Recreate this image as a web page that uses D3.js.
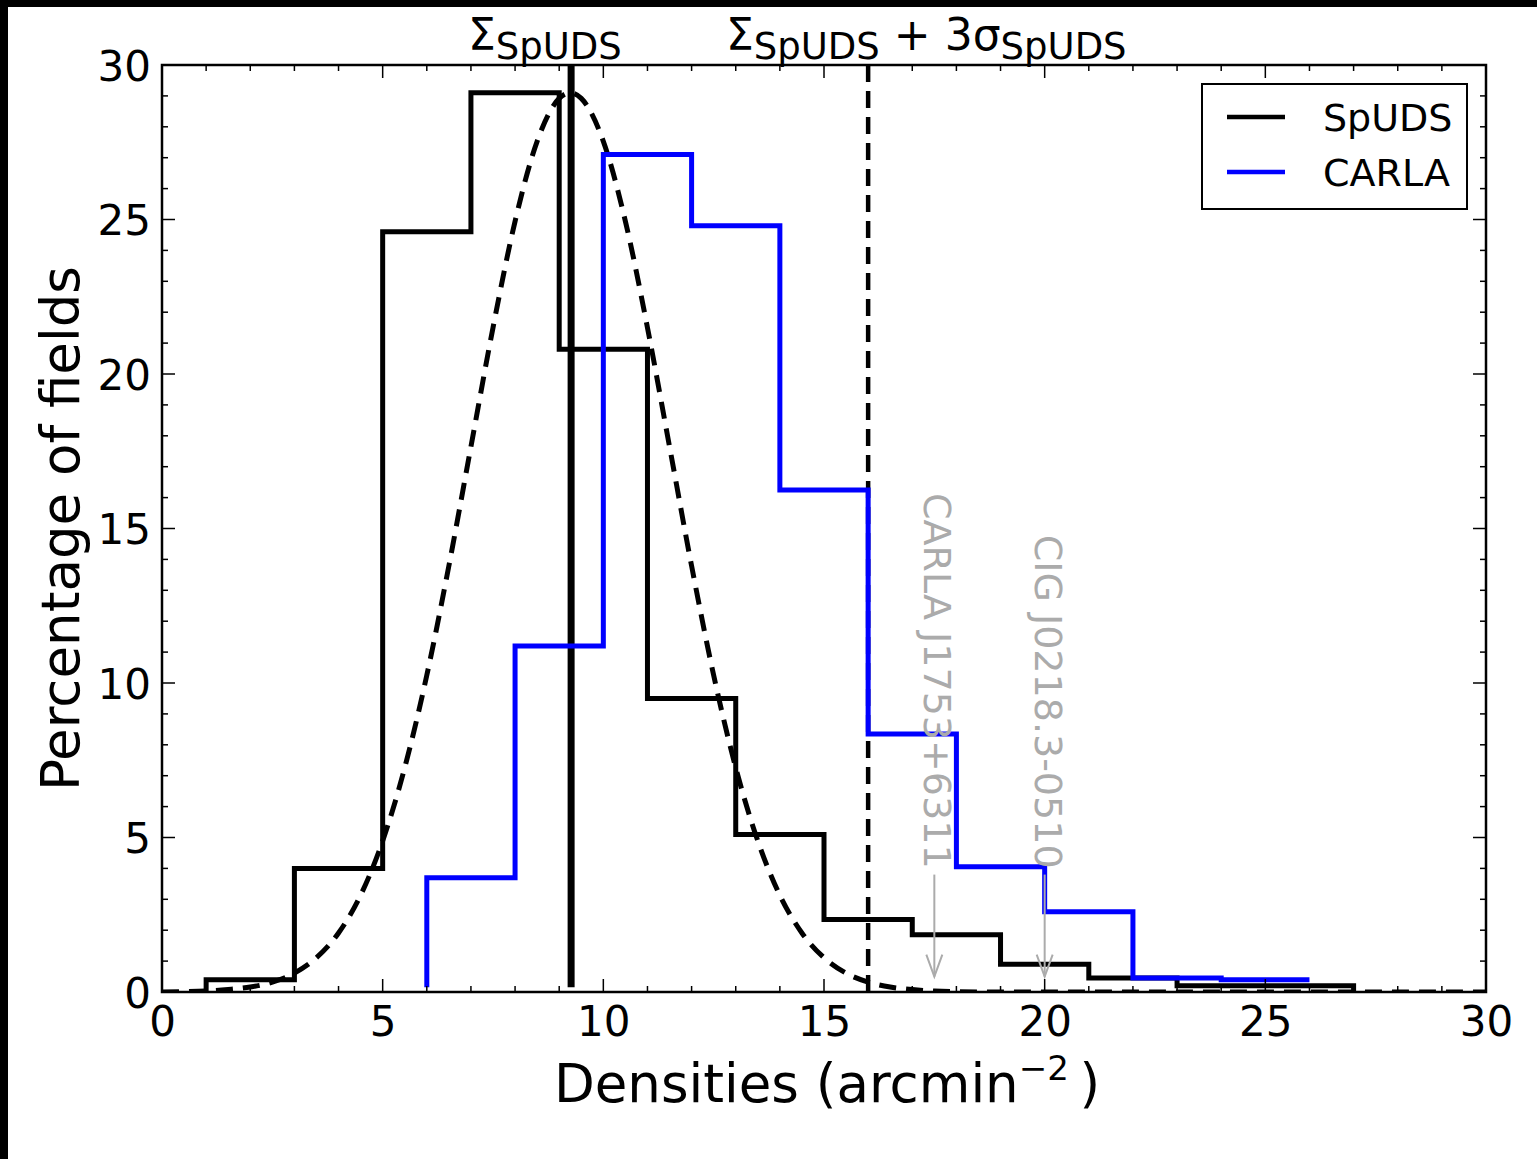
<!DOCTYPE html>
<html>
<head>
<meta charset="utf-8">
<script src="https://cdn.jsdelivr.net/npm/d3@7"></script>
<style>
  html, body { margin: 0; padding: 0; background: #fff; }
  svg { display: block; }
  text { font-family: "DejaVu Sans", sans-serif; }
</style>
</head>
<body>
<svg id="chart" width="1537" height="1159"></svg>
<script>
// ---------- data ----------
const spudsEdges = [1, 3, 5, 7, 9, 11, 13, 15, 17, 19, 21, 23, 25, 27];
const spudsPct   = [0.4, 4.0, 24.6, 29.1, 20.8, 9.5, 5.1, 2.35, 1.85, 0.9, 0.45, 0.2, 0.2];
const carlaEdges = [6, 8, 10, 12, 14, 16, 18, 20, 22, 24, 26];
const carlaPct   = [3.7, 11.2, 27.1, 24.8, 16.25, 8.35, 4.05, 2.6, 0.45, 0.4];
const carlaStart = 0.15;
const gaussX = [0, 1, 1.5, 2, 2.5, 3, 3.5, 4, 4.5, 5, 5.5, 6, 6.5, 7, 7.5, 8, 8.5, 9, 9.25, 9.5, 10, 10.5, 11, 11.5, 12, 12.5, 13, 13.5, 14, 14.5, 15, 15.5, 16, 16.5, 17, 17.5, 18, 19, 20, 30];
const gaussY = [0, 0.03, 0.08, 0.16, 0.32, 0.61, 1.11, 1.91, 3.13, 4.89, 7.26, 10.25, 13.79, 17.65, 21.5, 24.94, 27.53, 28.92, 29.1, 28.92, 27.53, 24.94, 21.5, 17.65, 13.79, 10.25, 7.26, 4.89, 3.13, 1.91, 1.11, 0.61, 0.32, 0.16, 0.08, 0.03, 0.01, 0, 0, 0];
const sigmaMean = 9.27;
const sigma3 = 16.0;
const annotNames = ["CARLA J1753+6311", "CIG J0218.3-0510"];
const annotX = [17.5, 20.0];
const annotTail = 3.8;
const annotHead = 0.5;
const xTicks = [0, 5, 10, 15, 20, 25, 30];
const yTicks = [0, 5, 10, 15, 20, 25, 30];
const legendNames = ["SpUDS", "CARLA"];
const legendColors = ["#000000", "#0000ff"];

// ---------- layout ----------
const X0 = 162, X1 = 1486, YB = 992, YT = 65;
const svg = d3.select("#chart");
svg.append("rect").attr("x", 0).attr("y", 0).attr("width", 1537).attr("height", 1159).attr("fill", "#fff");
svg.append("rect").attr("x", 0).attr("y", 0).attr("width", 1537).attr("height", 7).attr("fill", "#000");
svg.append("rect").attr("x", 0).attr("y", 0).attr("width", 8).attr("height", 1159).attr("fill", "#000");

const x = d3.scaleLinear().domain([0, 30]).range([X0, X1]);
const y = d3.scaleLinear().domain([0, 30]).range([YB, YT]);

const g = svg.append("g");
svg.append("defs").append("clipPath").attr("id", "clip")
  .append("rect").attr("x", X0).attr("y", YT - 2).attr("width", X1 - X0).attr("height", YB - YT + 2);
const plot = g.append("g").attr("clip-path", "url(#clip)");

// vertical lines
plot.append("line").attr("x1", x(sigmaMean)).attr("x2", x(sigmaMean))
  .attr("y1", y(30)).attr("y2", y(0.15)).attr("stroke", "#000").attr("stroke-width", 7);
plot.append("line").attr("x1", x(sigma3)).attr("x2", x(sigma3))
  .attr("y1", y(30)).attr("y2", y(0)).attr("stroke", "#000").attr("stroke-width", 4.5)
  .attr("stroke-dasharray", "17,9");

// gaussian
const line = d3.line().x(d => x(d[0])).y(d => y(d[1])).curve(d3.curveMonotoneX);
plot.append("path").datum(gaussX.map((v, i) => [v, gaussY[i]]))
  .attr("d", line).attr("fill", "none").attr("stroke", "#000")
  .attr("stroke-width", 5).attr("stroke-dasharray", "17,10");

// histograms
function stepPts(edges, vals, start, dropEnd) {
  const pts = [[edges[0], start]];
  vals.forEach((v, i) => { pts.push([edges[i], v]); pts.push([edges[i + 1], v]); });
  if (dropEnd) pts.push([edges[edges.length - 1], 0]);
  return pts;
}
const lin = d3.line().x(d => x(d[0])).y(d => y(d[1]));
plot.append("path").datum(stepPts(spudsEdges, spudsPct, 0, true))
  .attr("d", lin).attr("fill", "none").attr("stroke", "#000").attr("stroke-width", 5)
  .attr("stroke-linejoin", "miter");
plot.append("path").datum(stepPts(carlaEdges, carlaPct, carlaStart, false))
  .attr("d", lin).attr("fill", "none").attr("stroke", "#0000ff").attr("stroke-width", 5)
  .attr("stroke-linejoin", "miter");

// annotations
const grey = "#ababab";
annotX.forEach((ax, i) => {
  const px = x(ax);
  g.append("line").attr("x1", px).attr("x2", px).attr("y1", y(annotTail)).attr("y2", y(annotHead))
    .attr("stroke", grey).attr("stroke-width", 2);
  g.append("path").attr("d", `M${px - 8},${y(annotHead) - 22} L${px},${y(annotHead)} L${px + 8},${y(annotHead) - 22}`)
    .attr("fill", "none").attr("stroke", grey).attr("stroke-width", 2);
  g.append("text").attr("transform", `translate(${px + 3},${y(annotTail) - 6}) rotate(90)`)
    .attr("text-anchor", "end").attr("dominant-baseline", "central")
    .attr("font-size", 38).attr("fill", grey).text(annotNames[i]);
});

// axes frame
g.append("rect").attr("x", X0).attr("y", YT).attr("width", X1 - X0).attr("height", YB - YT)
  .attr("fill", "none").attr("stroke", "#000").attr("stroke-width", 2.5);

// ticks
const ticks = g.append("g").attr("stroke", "#000").attr("stroke-width", 1.5);
d3.range(0, 31, 1).forEach(v => {
  const major = v % 5 === 0;
  const L = major ? 13 : 6;
  ticks.append("line").attr("x1", x(v)).attr("x2", x(v)).attr("y1", YB).attr("y2", YB - L);
  ticks.append("line").attr("x1", x(v)).attr("x2", x(v)).attr("y1", YT).attr("y2", YT + L);
  ticks.append("line").attr("y1", y(v)).attr("y2", y(v)).attr("x1", X0).attr("x2", X0 + L);
  ticks.append("line").attr("y1", y(v)).attr("y2", y(v)).attr("x1", X1).attr("x2", X1 - L);
});
const xAxis = d3.axisBottom(x).tickValues(xTicks).tickSize(0).tickPadding(12);
const xa = g.append("g").attr("transform", `translate(0,${YB})`).call(xAxis);
xa.select(".domain").remove();
xa.selectAll("text").attr("font-size", 42).attr("font-family", "DejaVu Sans").attr("fill", "#000").attr("dy", "0.75em");
const yAxis = d3.axisLeft(y).tickValues(yTicks).tickSize(0).tickPadding(11);
const ya = g.append("g").attr("transform", `translate(${X0},0)`).call(yAxis);
ya.select(".domain").remove();
ya.selectAll("text").attr("font-size", 42).attr("font-family", "DejaVu Sans").attr("fill", "#000").attr("dy", "0.36em");

// axis labels
const xl = g.append("text").attr("x", 827).attr("y", 1102).attr("text-anchor", "middle").attr("font-size", 53);
xl.append("tspan").text("Densities (arcmin");
xl.append("tspan").attr("font-size", 34).attr("dy", -22).text("\u22122");
xl.append("tspan").attr("dy", 22).text("\u2009)");
g.append("text").attr("transform", `translate(79,${(YT + YB) / 2}) rotate(-90)`)
  .attr("text-anchor", "middle").attr("font-size", 53).text("Percentage of fields");

// top labels
const t1 = g.append("text").attr("x", 468).attr("y", 50).attr("font-size", 44);
t1.append("tspan").text("\u03A3");
t1.append("tspan").attr("font-size", 37).attr("dy", 9).text("SpUDS");
const t2 = g.append("text").attr("x", 726).attr("y", 50).attr("font-size", 44);
t2.append("tspan").text("\u03A3");
t2.append("tspan").attr("font-size", 37).attr("dy", 9).text("SpUDS");
t2.append("tspan").attr("dy", -9).text(" + 3\u03C3");
t2.append("tspan").attr("font-size", 37).attr("dy", 9).text("SpUDS");

// legend
const lg = g.append("g");
lg.append("rect").attr("x", 1202).attr("y", 84).attr("width", 265).attr("height", 125)
  .attr("fill", "#fff").attr("stroke", "#000").attr("stroke-width", 2);
legendNames.forEach((n, i) => {
  const ly = 117 + i * 55;
  lg.append("line").attr("x1", 1227).attr("x2", 1285).attr("y1", ly).attr("y2", ly)
    .attr("stroke", legendColors[i]).attr("stroke-width", 4.5);
  lg.append("text").attr("x", 1323).attr("y", ly + 14).attr("font-size", 38).text(n);
});
</script>
</body>
</html>
